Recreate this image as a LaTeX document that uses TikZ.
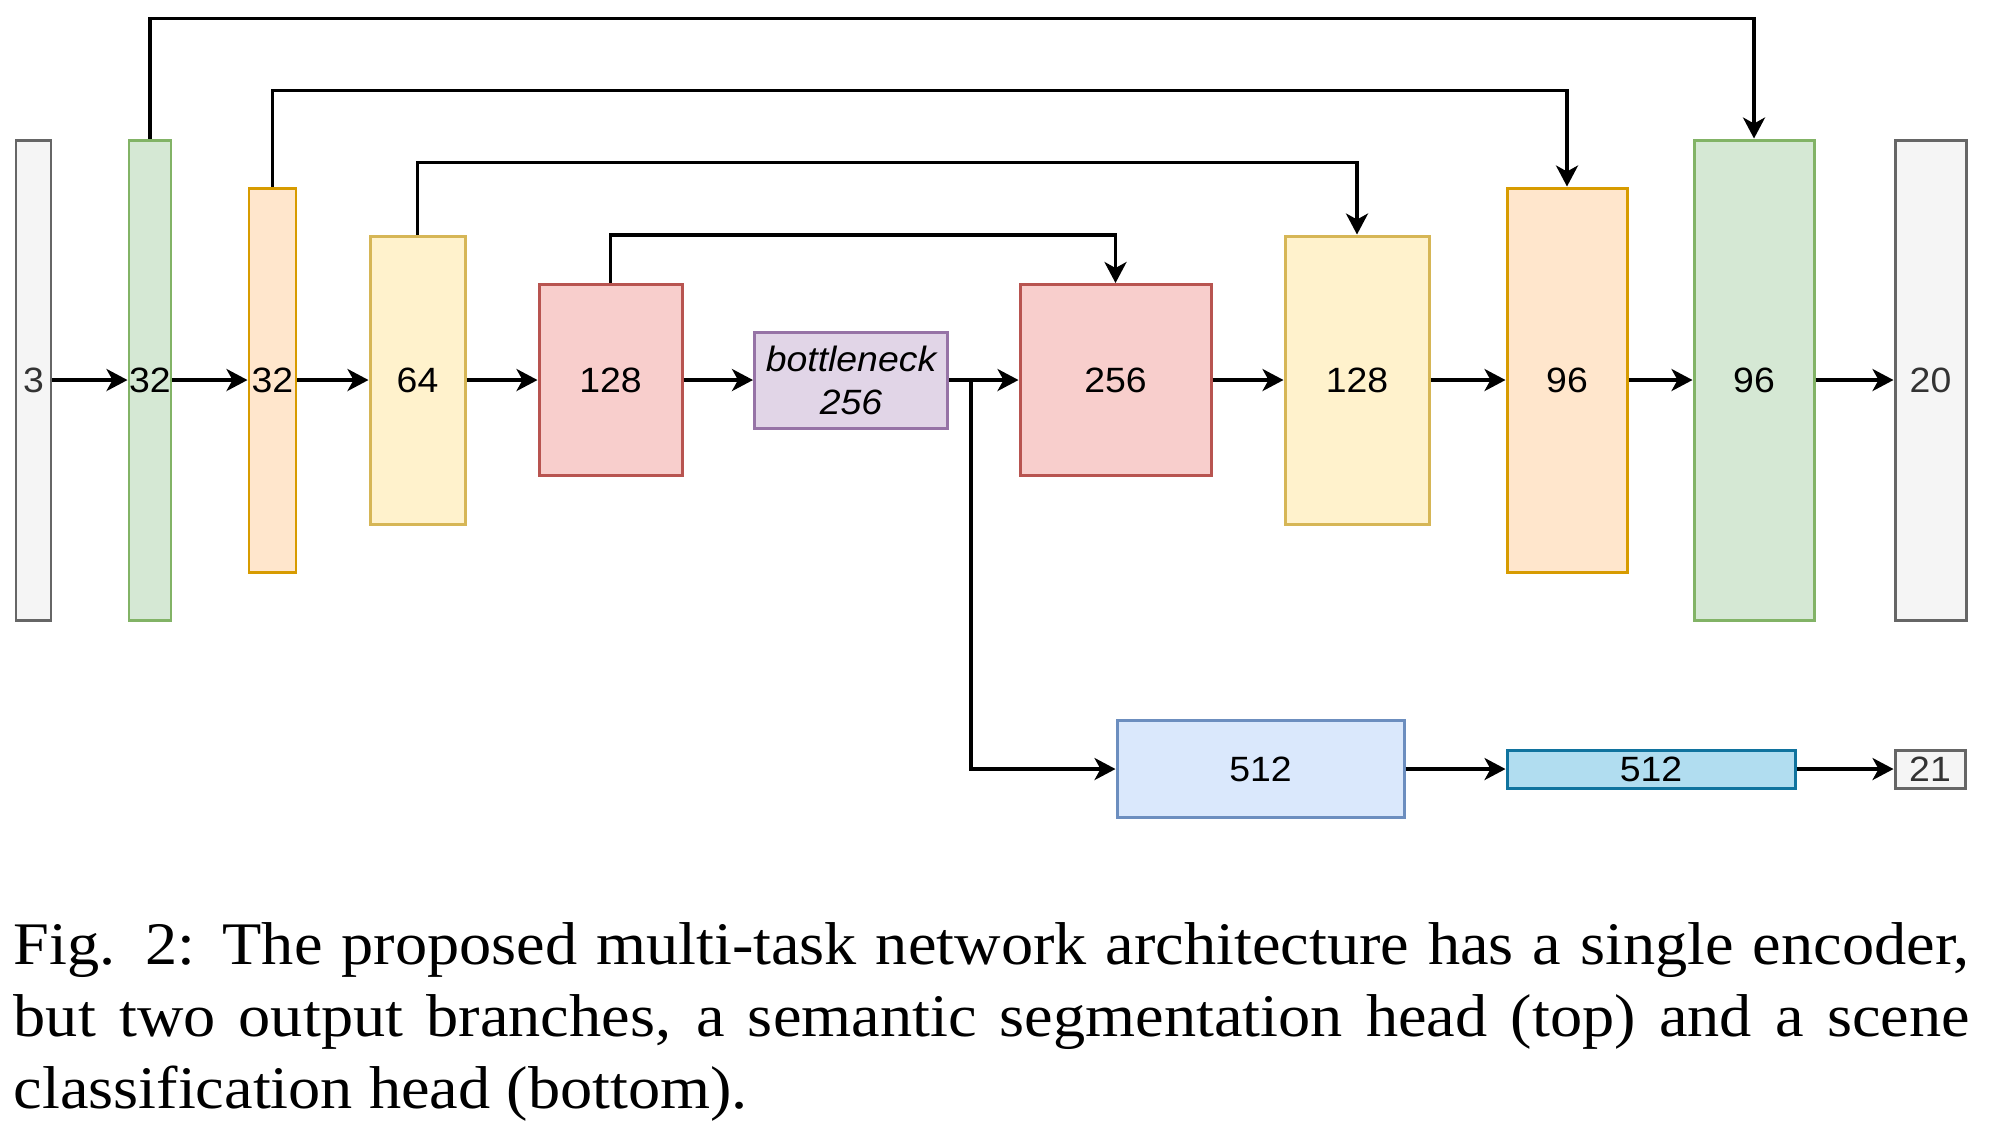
\documentclass[tikz,border=0pt]{standalone}
\usepackage{fontspec}
\setmainfont[FakeStretch=1.064]{Liberation Serif}
\newfontfamily\boxfont[FakeStretch=1.064]{Liberation Sans}
\usepackage{tikz}
\usetikzlibrary{arrows.meta}
\definecolor{grayfill}{HTML}{F5F5F5}
\definecolor{graydraw}{HTML}{666666}
\definecolor{graytext}{HTML}{333333}
\definecolor{greenfill}{HTML}{D5E8D4}
\definecolor{greendraw}{HTML}{82B366}
\definecolor{orangefill}{HTML}{FFE6CC}
\definecolor{orangedraw}{HTML}{D79B00}
\definecolor{yellowfill}{HTML}{FFF2CC}
\definecolor{yellowdraw}{HTML}{D6B656}
\definecolor{redfill}{HTML}{F8CECC}
\definecolor{reddraw}{HTML}{B85450}
\definecolor{purplefill}{HTML}{E1D5E7}
\definecolor{purpledraw}{HTML}{9673A6}
\definecolor{bluefill}{HTML}{DAE8FC}
\definecolor{bluedraw}{HTML}{6C8EBF}
\definecolor{cyanfill}{HTML}{B1DDF0}
\definecolor{cyandraw}{HTML}{10739E}
\tikzset{
  layer/.style={draw, line width=0.85pt, inner sep=0pt, font=\boxfont\fontsize{10}{12.2}\selectfont},
  graylayer/.style={layer, fill=grayfill, draw=graydraw, text=graytext},
  greenlayer/.style={layer, fill=greenfill, draw=greendraw},
  orangelayer/.style={layer, fill=orangefill, draw=orangedraw},
  yellowlayer/.style={layer, fill=yellowfill, draw=yellowdraw},
  redlayer/.style={layer, fill=redfill, draw=reddraw},
  purplelayer/.style={layer, fill=purplefill, draw=purpledraw},
  bluelayer/.style={layer, fill=bluefill, draw=bluedraw},
  cyanlayer/.style={layer, fill=cyanfill, draw=cyandraw},
  link/.style={-{Stealth[length=2.1mm,width=2.2mm,inset=0.6mm]}, line width=1pt},
}

\begin{document}
\begin{tikzpicture}
\useasboundingbox (0,0) rectangle (19.98,-11.33);
% encoder
\node[graylayer, minimum width=0.35cm, minimum height=4.8cm] (in) at (0.335,-3.8) {3};
\node[greenlayer, minimum width=0.42cm, minimum height=4.8cm] (e1) at (1.50,-3.8) {32};
\node[orangelayer, minimum width=0.47cm, minimum height=3.84cm] (e2) at (2.725,-3.8) {32};
\node[yellowlayer, minimum width=0.95cm, minimum height=2.88cm] (e3) at (4.175,-3.8) {64};
\node[redlayer, minimum width=1.43cm, minimum height=1.91cm] (e4) at (6.105,-3.8) {128};
\node[purplelayer, minimum width=1.93cm, minimum height=0.96cm, align=center, font=\boxfont\itshape\fontsize{10}{12.2}\selectfont] (bn) at (8.51,-3.8) {bottleneck\\256};
% decoder
\node[redlayer, minimum width=1.91cm, minimum height=1.91cm] (d4) at (11.155,-3.8) {256};
\node[yellowlayer, minimum width=1.44cm, minimum height=2.88cm] (d3) at (13.57,-3.8) {128};
\node[orangelayer, minimum width=1.20cm, minimum height=3.84cm] (d2) at (15.67,-3.8) {96};
\node[greenlayer, minimum width=1.20cm, minimum height=4.8cm] (d1) at (17.54,-3.8) {96};
\node[graylayer, minimum width=0.71cm, minimum height=4.8cm] (out) at (19.305,-3.8) {20};
% classification head
\node[bluelayer, minimum width=2.87cm, minimum height=0.97cm] (c1) at (12.605,-7.69) {512};
\node[cyanlayer, minimum width=2.88cm, minimum height=0.38cm] (c2) at (16.51,-7.69) {512};
\node[graylayer, minimum width=0.70cm, minimum height=0.38cm] (cout) at (19.30,-7.69) {21};
\coordinate (br) at (9.71,-3.8);

\draw[link] (in) -- (e1);
\draw[link] (e1) -- (e2);
\draw[link] (e2) -- (e3);
\draw[link] (e3) -- (e4);
\draw[link] (e4) -- (bn);
\draw[link] (bn) -- (d4);
\draw[link] (d4) -- (d3);
\draw[link] (d3) -- (d2);
\draw[link] (d2) -- (d1);
\draw[link] (d1) -- (out);
\draw[link] (e1.north) -- ++(0,1.2) -| (d1.north);
\draw[link] (e2.north) -- ++(0,0.96) -| (d2.north);
\draw[link] (e3.north) -- ++(0,0.72) -| (d3.north);
\draw[link] (e4.north) -- ++(0,0.48) -| (d4.north);
\draw[link] (br) |- (c1.west);
\draw[link] (c1) -- (c2);
\draw[link] (c2) -- (cout);

\node[anchor=base west, inner sep=0pt, align=left, font=\fontsize{17.2}{20.4}\selectfont] (cap) at (0.13,-11.08)
  {\makebox[19.56cm][s]{Fig. 2: The proposed multi-task network architecture has a single encoder,}\\
   \makebox[19.56cm][s]{but two output branches, a semantic segmentation head (top) and a scene}\\
   classification head (bottom).};
\end{tikzpicture}
\end{document}
